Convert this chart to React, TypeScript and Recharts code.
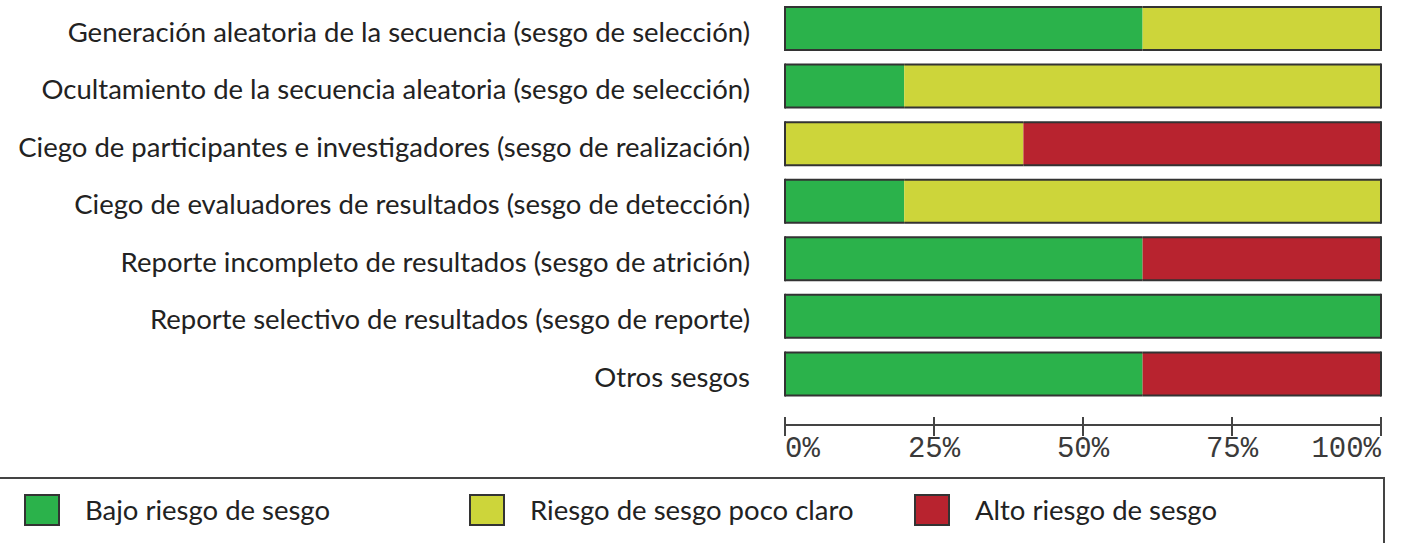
import { BarChart, Bar, XAxis, YAxis } from "recharts";

const categories = [
  "Generación aleatoria de la secuencia (sesgo de selección)",
  "Ocultamiento de la secuencia aleatoria (sesgo de selección)",
  "Ciego de participantes e investigadores (sesgo de realización)",
  "Ciego de evaluadores de resultados (sesgo de detección)",
  "Reporte incompleto de resultados (sesgo de atrición)",
  "Reporte selectivo de resultados (sesgo de reporte)",
  "Otros sesgos",
];
const bajo = [60, 20, 0, 20, 60, 100, 60];
const pocoClaro = [40, 80, 40, 80, 0, 0, 0];
const alto = [0, 0, 60, 0, 40, 0, 40];
const ticks = [0, 25, 50, 75, 100];
const tickLabels = ["0%", "25%", "50%", "75%", "100%"];
const legendLabels = ["Bajo riesgo de sesgo", "Riesgo de sesgo poco claro", "Alto riesgo de sesgo"];
const colors = ["#2bb24b", "#cdd53a", "#b8232f"];
const keys = ["bajo", "pocoClaro", "alto"];

const data = categories.map((name, i) => ({
  name,
  bajo: bajo[i],
  pocoClaro: pocoClaro[i],
  alto: alto[i],
}));

const FONT = "Lato, 'Noto Sans', sans-serif";
const OUTLINE = "#333";

// draws a segment with the bar outline only on the outer edges
const Segment = (props: any) => {
  const { x, y, width, height, fill, payload, seg } = props;
  if (!width || width <= 0) return null;
  const idx = keys.indexOf(seg);
  const start = keys.slice(0, idx).reduce((s, k) => s + payload[k], 0);
  const end = start + payload[seg];
  return (
    <g>
      <rect x={x} y={y} width={width} height={height} fill={fill} />
      <line x1={x} x2={x + width} y1={y} y2={y} stroke={OUTLINE} strokeWidth={2} />
      <line x1={x} x2={x + width} y1={y + height} y2={y + height} stroke={OUTLINE} strokeWidth={2} />
      {start === 0 && <line x1={x} x2={x} y1={y - 1} y2={y + height + 1} stroke={OUTLINE} strokeWidth={2} />}
      {end === 100 && (
        <line x1={x + width} x2={x + width} y1={y - 1} y2={y + height + 1} stroke={OUTLINE} strokeWidth={2} />
      )}
    </g>
  );
};

const PercentTick = (props: any) => {
  const { x, y, index } = props;
  const anchor = index === 0 ? "start" : index === ticks.length - 1 ? "end" : "middle";
  return (
    <g>
      <line x1={x} x2={x} y1={y - 8} y2={y + 11} stroke="#444" strokeWidth={2} />
      <text
        x={x}
        y={y + 32}
        textAnchor={anchor}
        fontFamily="'Liberation Mono', 'DejaVu Sans Mono', monospace"
        fontSize={29}
        fill="#3a3a3a"
      >
        {tickLabels[index]}
      </text>
    </g>
  );
};

const LegendBox = () => (
  <div
    style={{
      position: "absolute",
      left: -2,
      top: 477,
      width: 1387,
      height: 80,
      border: "2px solid #444",
      boxSizing: "border-box",
      display: "flex",
      alignItems: "flex-start",
      paddingTop: 14,
      paddingLeft: 24,
      fontFamily: FONT,
      fontSize: 27.5,
      color: "#222",
    }}
  >
    {legendLabels.map((label, i) => (
      <div key={label} style={{ width: 445, display: "flex", alignItems: "center" }}>
        <div
          style={{
            width: 36,
            height: 32,
            background: colors[i],
            border: "2px solid #333",
            boxSizing: "border-box",
            marginRight: 25,
          }}
        />
        <span>{label}</span>
      </div>
    ))}
  </div>
);

export default function App() {
  return (
    <div
      style={{
        position: "absolute",
        left: 0,
        top: 0,
        width: 1409,
        height: 543,
        overflow: "hidden",
        background: "#fff",
      }}
    >
      <BarChart
        layout="vertical"
        width={1409}
        height={478}
        data={data}
        margin={{ top: 0, right: 28, left: 0, bottom: 0 }}
        barSize={43}
      >
        <XAxis
          type="number"
          domain={[0, 100]}
          ticks={ticks}
          axisLine={{ stroke: "#444", strokeWidth: 2 }}
          tickLine={false}
          tickSize={0}
          tickMargin={0}
          tick={<PercentTick />}
          height={53}
          interval={0}
        />
        <YAxis
          type="category"
          dataKey="name"
          width={785}
          axisLine={false}
          tickLine={false}
          tickSize={0}
          tickMargin={35}
          padding={{ top: 0, bottom: 22 }}
          tick={{ fontFamily: FONT, fontSize: 27.5, fill: "#222", dy: 3 }}
          interval={0}
        />
        {keys.map((k, i) => (
          <Bar
            key={k}
            dataKey={k}
            stackId="a"
            fill={colors[i]}
            isAnimationActive={false}
            shape={(p: any) => <Segment {...p} seg={k} />}
          />
        ))}
      </BarChart>
      <LegendBox />
    </div>
  );
}
